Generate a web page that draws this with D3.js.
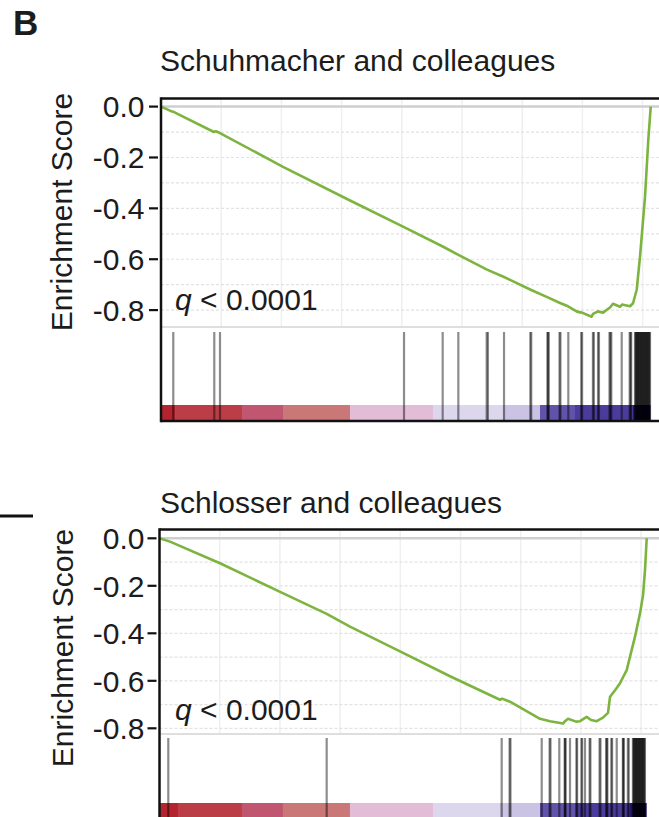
<!DOCTYPE html>
<html>
<head>
<meta charset="utf-8">
<script src="https://cdn.jsdelivr.net/npm/d3@7/dist/d3.min.js"></script>
<style>
  body { margin: 0; background: #fff; }
  svg { display: block; }
  text { font-family: "Liberation Sans", Arial, Helvetica, sans-serif; fill: #1c1c1c; }
</style>
</head>
<body>
<svg id="chart" width="659" height="817"></svg>
<script>
// ---- data: running enrichment score along the ranked gene list ----
const yTickValues = [0, -0.2, -0.4, -0.6, -0.8];
const yTickLabels = ["0.0", "-0.2", "-0.4", "-0.6", "-0.8"];
const qLabel = "< 0.0001";

// Panel 1: Schuhmacher and colleagues
const schuhTitle = "Schuhmacher and colleagues";
const schuhRanks = [0, 150, 200, 880, 910, 980, 2027, 3140, 4037, 4680, 4940, 5415, 5698, 6141, 6425, 6628, 6761, 6910, 6993, 7154, 7176, 7259, 7342, 7458, 7508, 7625, 7658, 7791, 7841, 7902, 7957, 8040, 8095, 8135];
const schuhES = [0, -0.016, -0.020, -0.100, -0.097, -0.104, -0.237, -0.369, -0.474, -0.550, -0.583, -0.641, -0.670, -0.720, -0.750, -0.772, -0.785, -0.806, -0.810, -0.826, -0.815, -0.805, -0.810, -0.790, -0.775, -0.787, -0.778, -0.785, -0.773, -0.720, -0.590, -0.355, -0.130, 0];
const schuhHits = [204, 885, 980, 4037, 4679, 4939, 5410, 5430, 5698, 6135, 6150, 6418, 6430, 6440, 6620, 6635, 6766, 6980, 6995, 7175, 7190, 7260, 7275, 7450, 7465, 7480, 7653, 7785, 7800, 7810,
  7874, 7884, 7894, 7904, 7914, 7924, 7934, 7944, 7954, 7964, 7974, 7984, 7994, 8004, 8014, 8024, 8034, 8044, 8054, 8064, 8074, 8084, 8094, 8104, 8114, 8123];
const schuhBinEdges = [0, 233, 1346, 2027, 3140, 4518, 5681, 6296, 6877, 7841, 8131];
const schuhBinColors = ["#b3242e", "#bb3e47", "#c0566f", "#c97777", "#e3bdd8", "#ddd7ee", "#cbc3e4", "#6152aa", "#4b3c9c", "#1f1366"];

// Panel 2: Schlosser and colleagues
const schloTitle = "Schlosser and colleagues";
const schloRanks = [0, 174, 1005, 2056, 2777, 3164, 3995, 4826, 5656, 5689, 5822, 6321, 6487, 6703, 6736, 6786, 6919, 6985, 7096, 7168, 7262, 7367, 7450, 7484, 7567, 7650, 7700, 7761, 7816, 7899, 7982, 8032, 8065, 8093];
const schloES = [0, -0.014, -0.105, -0.232, -0.318, -0.372, -0.476, -0.581, -0.680, -0.675, -0.688, -0.760, -0.770, -0.780, -0.770, -0.760, -0.772, -0.770, -0.752, -0.765, -0.770, -0.755, -0.735, -0.667, -0.640, -0.610, -0.585, -0.555, -0.498, -0.414, -0.316, -0.240, -0.133, 0];
const schloHits = [146, 2777, 5684, 5815, 5830, 6349, 6480, 6495, 6641, 6730, 6738, 6745, 6819, 6925, 6937, 7008, 7020, 7068, 7145, 7158, 7310, 7325, 7420, 7430, 7440, 7505, 7518, 7595, 7697, 7705, 7712, 7780, 7795,
  7864, 7874, 7884, 7894, 7904, 7914, 7924, 7934, 7944, 7954, 7964, 7974, 7984, 7994, 8004, 8014, 8024, 8034, 8044, 8054, 8064];
const schloBinEdges = [0, 307, 1370, 2051, 3164, 4543, 5656, 6321, 6902, 7816, 8093];
const schloBinColors = ["#b3242e", "#bb3e47", "#c0566f", "#c97777", "#e3bdd8", "#ddd7ee", "#cbc3e4", "#6152aa", "#4b3c9c", "#1f1366"];

const gridRanks = [1000, 2000, 3000, 4000, 5000, 6000, 7000, 8000];
const gridES = [-0.1, -0.2, -0.3, -0.4, -0.5, -0.6, -0.7, -0.8];

// ---- drawing ----
const svg = d3.select("#chart");
const W = 659;
const pxPerRank = 0.0602;

svg.append("text").attr("x", 13).attr("y", 35)
  .attr("font-size", 35).attr("font-weight", "bold").text("B");

// edge of the neighbouring panel's rule
svg.append("line").attr("x1", 0).attr("x2", 33).attr("y1", 516).attr("y2", 516)
  .attr("stroke", "#111").attr("stroke-width", 3);

function drawPanel(p) {
  const g = svg.append("g");
  const x = d3.scaleLinear().domain([0, 10000]).range([p.left, p.left + 10000 * pxPerRank]);
  const y = d3.scaleLinear().domain([-0.8, 0]).range([p.yMin, p.yZero]);

  // title
  g.append("text").attr("x", 160).attr("y", p.titleY).attr("font-size", 30).text(p.title);

  // grid in the enrichment-score area
  g.selectAll(".vg").data(gridRanks).join("line")
    .attr("x1", d => x(d)).attr("x2", d => x(d))
    .attr("y1", p.frameTop).attr("y2", p.esBottom)
    .attr("stroke", "#efefef").attr("stroke-width", 1.5);
  g.selectAll(".hg").data(gridES).join("line")
    .attr("x1", p.left).attr("x2", W)
    .attr("y1", d => y(d)).attr("y2", d => y(d))
    .attr("stroke", "#e2e2e2").attr("stroke-width", 1.2)
    .attr("stroke-dasharray", "3,2");
  // zero line
  g.append("line").attr("x1", p.left).attr("x2", W)
    .attr("y1", y(0)).attr("y2", y(0))
    .attr("stroke", "#cfcfcf").attr("stroke-width", 2.5);
  // separator between score plot and hit barcode
  g.append("line").attr("x1", p.left).attr("x2", W)
    .attr("y1", p.esBottom).attr("y2", p.esBottom)
    .attr("stroke", "#dedede").attr("stroke-width", 2);

  // ranked-list colour strip
  const bins = d3.range(p.binColors.length).map(i => ({ a: p.binEdges[i], b: p.binEdges[i + 1], c: p.binColors[i] }));
  g.selectAll(".bin").data(bins).join("rect")
    .attr("x", d => x(d.a)).attr("width", d => x(d.b) - x(d.a))
    .attr("y", p.stripTop).attr("height", p.frameBottom - p.stripTop)
    .attr("fill", d => d.c);

  // gene-set hits
  g.selectAll(".hit").data(p.hits).join("line")
    .attr("x1", d => x(d)).attr("x2", d => x(d))
    .attr("y1", p.hitTop).attr("y2", p.frameBottom)
    .attr("stroke", "#000").attr("stroke-opacity", 0.45).attr("stroke-width", 2.2);

  // running enrichment score
  const pts = p.ranks.map((r, i) => [r, p.es[i]]);
  g.append("path").datum(pts)
    .attr("d", d3.line().x(d => x(d[0])).y(d => y(d[1])))
    .attr("fill", "none").attr("stroke", "#7db43f").attr("stroke-width", 2.6)
    .attr("stroke-linejoin", "round");

  // frame
  g.append("line").attr("x1", p.left).attr("x2", W).attr("y1", p.frameTop).attr("y2", p.frameTop)
    .attr("stroke", "#111").attr("stroke-width", 2.5);
  g.append("line").attr("x1", p.left).attr("x2", W).attr("y1", p.frameBottom).attr("y2", p.frameBottom)
    .attr("stroke", "#111").attr("stroke-width", 2.5);
  g.append("line").attr("x1", p.left).attr("x2", p.left).attr("y1", p.frameTop - 1.2).attr("y2", p.frameBottom + 1.2)
    .attr("stroke", "#111").attr("stroke-width", 2.5);

  // y axis ticks and labels
  const ticks = g.selectAll(".tk").data(yTickValues).join("g");
  ticks.append("line")
    .attr("x1", p.left - 12).attr("x2", p.left - 3)
    .attr("y1", d => y(d)).attr("y2", d => y(d))
    .attr("stroke", "#111").attr("stroke-width", 2.2);
  ticks.append("text")
    .attr("x", 144.5).attr("y", d => y(d)).attr("dy", "0.36em")
    .attr("text-anchor", "end").attr("font-size", 30)
    .text((d, i) => yTickLabels[i]);

  // y axis title
  g.append("text")
    .attr("transform", `translate(${p.yTitleX},${p.yTitleY}) rotate(-90)`)
    .attr("text-anchor", "middle").attr("font-size", 30)
    .text("Enrichment Score");

  // significance label
  const q = g.append("text").attr("x", 175).attr("y", p.qY).attr("font-size", 30);
  q.append("tspan").attr("font-style", "italic").text("q");
  q.append("tspan").text(" " + qLabel);
}

drawPanel({
  title: schuhTitle, titleY: 71,
  ranks: schuhRanks, es: schuhES, hits: schuhHits,
  binEdges: schuhBinEdges, binColors: schuhBinColors,
  left: 161, frameTop: 98.5, yZero: 106.6, yMin: 310.1, esBottom: 327,
  hitTop: 332, stripTop: 405, frameBottom: 421,
  yTitleX: 72, yTitleY: 212, qY: 310
});

drawPanel({
  title: schloTitle, titleY: 513,
  ranks: schloRanks, es: schloES, hits: schloHits,
  binEdges: schloBinEdges, binColors: schloBinColors,
  left: 159.5, frameTop: 529.5, yZero: 538.3, yMin: 728.3, esBottom: 734,
  hitTop: 738, stripTop: 803, frameBottom: 820,
  yTitleX: 73, yTitleY: 648, qY: 720
});
</script>
</body>
</html>
